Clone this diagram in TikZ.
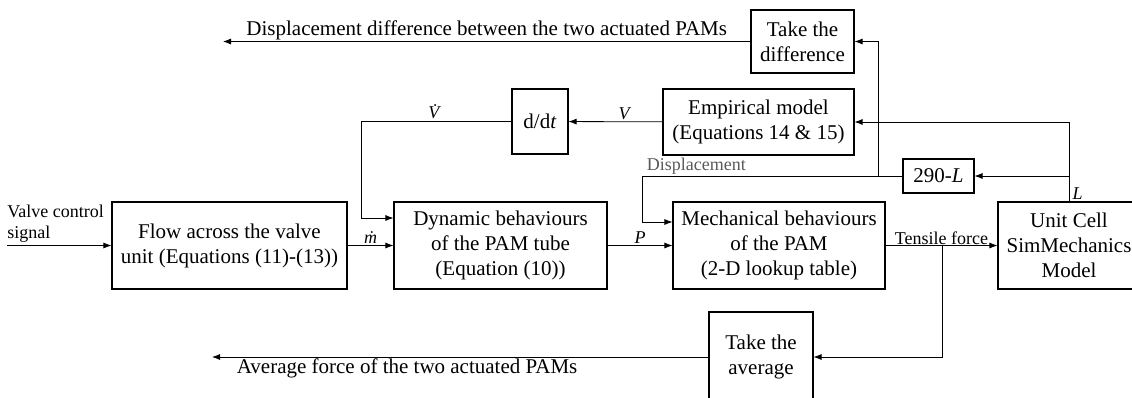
\documentclass[tikz,border=0pt]{standalone}
\usepackage{fontspec}
\setmainfont{Liberation Serif}
\usetikzlibrary{arrows.meta,calc}

\begin{document}
\begin{tikzpicture}[x=1pt,y=-1pt,->,>={Latex[length=8pt,width=6pt]},line width=0.8pt,
                    font=\fontsize{21}{25}\selectfont]
  %\tikzstyle{block}=[draw,fill=gray!10]
	\tikzstyle{block}=[draw,line width=1.1pt,align=center,inner sep=0pt]
	\tikzstyle{small}=[font=\fontsize{18}{21}\selectfont]
	\useasboundingbox (0,0) rectangle (1132,397);

	\node[block,minimum width=235,minimum height=87] (flow) at (229.5,245.5) {Flow across the valve\\unit (Equations (11)-(13))};
	\node[block,minimum width=213,minimum height=87] (dyn)  at (500.5,245.5) {Dynamic behaviours\\of the PAM tube\\(Equation (10))};
	\node[block,minimum width=212,minimum height=87] (mech) at (779,245.5)   {Mechanical behaviours\\of the PAM\\(2-D lookup table)};
	\node[block,minimum width=142,minimum height=87] (cell) at (1069,245.5)  {Unit Cell\\SimMechanics\\Model};
	\node[block,minimum width=56,minimum height=65]  (ddt)  at (540,121.5)   {d/d\textit{t}};
	\node[block,minimum width=191,minimum height=66] (emp)  at (758.5,122)   {Empirical model\\(Equations 14 \& 15)};
	\node[block,minimum width=103,minimum height=63] (diff) at (802.5,41.5)  {Take the\\difference};
	\node[block,minimum width=71,minimum height=34]  (sub)  at (938.5,176)   {290-\textit{L}};
	\node[block,minimum width=104,minimum height=90] (avg)  at (761,357)     {Take the\\average};

	\node[small,anchor=west,align=left,inner sep=1pt] (valve) at (6,223.5) {Valve control\\signal};

	\coordinate (in)      at (7,245.5);
	\coordinate (diffout) at (223,41.5);
	\coordinate (avgout)  at (212,357);
	\coordinate (dsplit)  at ($(sub.west)+(-24,0)$);
	\coordinate (fsplit)  at ($(mech.east)+(57,0)$);

	\draw (in) -- (flow);
	\draw (flow) -- node[small,above,inner sep=2pt] {\textit{\.{m}}} (dyn);
	\draw (dyn) -- node[small,above,inner sep=2pt] {\textit{P}} (mech);
	\draw (mech) -- node[small,above,inner sep=0pt] {Tensile force} (cell);
	\draw (cell.north) |- node[small,pos=0.05,right] {\textit{L}} (emp.east);
	\draw (cell.north |- sub.east) -- (sub.east);
	\draw (emp) -- node[small,pos=0.4,above,inner sep=2pt] {\textit{V}} (ddt);
	\draw (ddt.west) -- ++(-150,0) node[small,midway,above,inner sep=2pt] {\textit{\.{V}}} |- ([yshift=27.5pt]dyn.west);
	\draw (sub.west) -- ++(-260,0)
	      node[small,pos=1,anchor=south west,xshift=3pt,text=black!65,inner sep=1pt] {Displacement}
	      |- ([yshift=23.5pt]mech.west);
	\draw (dsplit) |- (diff.east);
	\draw (diff.west) -- node[above,inner sep=1pt] {Displacement difference between the two actuated PAMs} (diffout);
	\draw (fsplit) |- (avg.east);
	\draw (avg.west) -- node[pos=0.607,below,inner sep=1pt] {Average force of the two actuated PAMs} (avgout);
\end{tikzpicture}
\end{document}
